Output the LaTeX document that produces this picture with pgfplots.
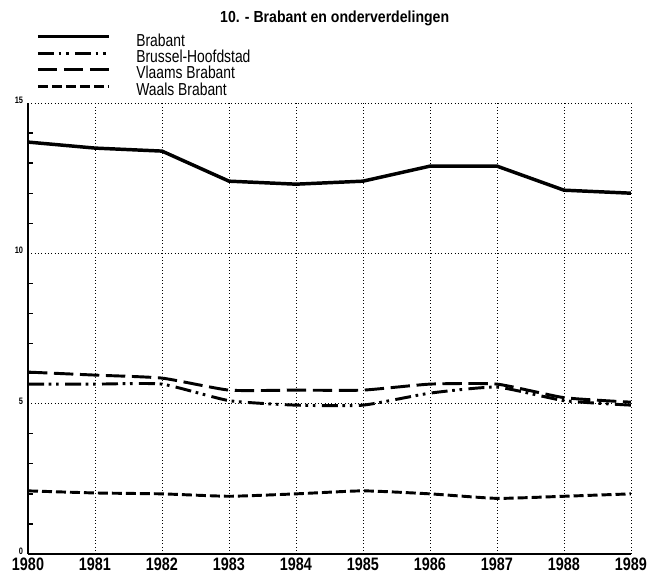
\documentclass[border=0pt]{standalone}
\usepackage{fontspec}
\setmainfont[FakeStretch=0.8]{Liberation Sans}
\newfontfamily\titlefont[FakeStretch=0.88]{Liberation Sans}
\usepackage{pgfplots}
\pgfplotsset{compat=1.18}
\begin{document}
\begin{tikzpicture}
\path[use as bounding box] (0,0) rectangle (488.25pt,430.5pt);
\node[font=\titlefont\bfseries\fontsize{12}{14}\selectfont] at (251pt,417pt) {10. - Brabant en onderverdelingen};
\begin{axis}[
  at={(21pt,15pt)}, anchor=south west,
  scale only axis, width=452.25pt, height=338.25pt,
  xmin=1980, xmax=1989, ymin=0, ymax=15,
  axis x line=bottom, axis y line=left,
  axis line style={-, line width=1.4pt},
  xtick={1980,...,1989}, ytick={0,5,10,15},
  minor ytick={1,2,3,4,6,7,8,9,11,12,13,14},
  major tick length=0pt, minor tick length=3.5pt, tick align=inside,
  minor tick style={line width=1pt, black},
  grid=major, major grid style={black, line width=0.5pt, dotted},
  /pgf/number format/1000 sep={},
  /pgf/number format/assume math mode=true,
  xticklabel style={font=\bfseries\fontsize{13.5}{15}\selectfont, inner sep=0pt, yshift=-3pt},
  yticklabel style={font=\bfseries\fontsize{7}{8}\selectfont, inner sep=0pt, xshift=-3.5pt, yshift=2pt},
  legend style={at={(0.0066,1.1574)}, anchor=north west, draw=none, fill=none,
    font=\fontsize{13}{14}\selectfont, row sep=2.25pt, column sep=19.25pt,
    nodes={inner sep=0pt, text height=8pt, text depth=2pt}},
  legend cell align=left,
  legend image code/.code={\draw[#1] (0pt,4pt) -- (53.25pt,4pt);},
]
\addplot[black, line width=2.6pt] coordinates {
(1980,13.7) (1981,13.5) (1982,13.4) (1983,12.4) (1984,12.3) (1985,12.4) (1986,12.9) (1987,12.9) (1988,12.1) (1989,12.0)};
\addlegendentry{Brabant}
\addplot[black, line width=2.2pt, smooth, tension=0.3, dash pattern=on 12pt off 3.5pt on 2pt off 3.5pt on 2pt off 4.75pt] coordinates {
(1980,5.65) (1981,5.65) (1982,5.65) (1983,5.1) (1984,4.95) (1985,4.95) (1986,5.35) (1987,5.55) (1988,5.1) (1989,4.95)};
\addlegendentry{Brussel-Hoofdstad}
\addplot[black, line width=2.2pt, smooth, tension=0.3, dash pattern=on 14.5pt off 5pt] coordinates {
(1980,6.05) (1981,5.95) (1982,5.85) (1983,5.45) (1984,5.45) (1985,5.45) (1986,5.65) (1987,5.65) (1988,5.2) (1989,5.05)};
\addlegendentry{Vlaams Brabant}
\addplot[black, line width=2.2pt, smooth, tension=0.3, dash pattern=on 7.5pt off 3pt] coordinates {
(1980,2.1) (1981,2.03) (1982,2.0) (1983,1.92) (1984,2.0) (1985,2.1) (1986,2.0) (1987,1.85) (1988,1.92) (1989,2.0)};
\addlegendentry{Waals Brabant}
\end{axis}
\end{tikzpicture}
\end{document}
